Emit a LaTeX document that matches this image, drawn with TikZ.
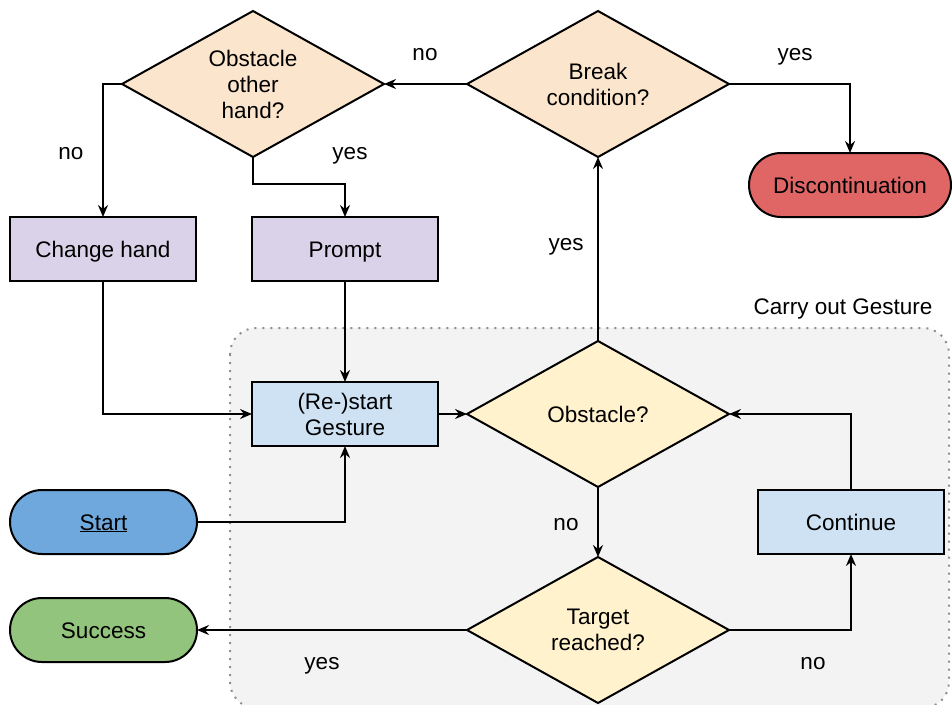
\documentclass[tikz,border=0pt]{standalone}
\usepackage{fontspec}
\setmainfont{Liberation Sans}
\usetikzlibrary{shapes.geometric,arrows.meta}
\definecolor{peach}{HTML}{FCE5CD}
\definecolor{lilac}{HTML}{D9D2E9}
\definecolor{paleblue}{HTML}{CFE2F3}
\definecolor{paleyellow}{HTML}{FFF2CC}
\definecolor{termred}{HTML}{E06666}
\definecolor{termblue}{HTML}{6FA8DC}
\definecolor{termgreen}{HTML}{93C47D}
\definecolor{groupfill}{HTML}{F3F3F3}
\definecolor{groupline}{HTML}{8F8F8F}
\tikzset{
  base/.style={draw=black, line width=2pt, inner sep=0pt, outer sep=0pt,
    align=center, font=\fontsize{22.5}{26}\selectfont},
  oneline/.style={text height=16pt, text depth=0pt},
  procbox/.style={base, rectangle, minimum width=186pt, minimum height=64pt},
  decision/.style={base, diamond, aspect=1.8, minimum width=262pt, minimum height=146pt},
  terminal/.style={base, oneline, rectangle, rounded corners=32pt, minimum width=187pt, minimum height=64pt},
  flow/.style={line width=2pt, -{Stealth[length=12pt,width=10pt,inset=4pt]}},
  lbl/.style={font=\fontsize{22.5}{26}\selectfont, inner sep=0pt, text height=12pt, text depth=0pt},
}
\begin{document}
\begin{tikzpicture}[x=1pt,y=-1pt]
  \path[use as bounding box] (0,0) rectangle (952,704);

  % group frame for the gesture loop
  \begin{scope}
    \clip (0,0) rectangle (952,704);
    \draw[fill=groupfill, draw=groupline, line width=2pt,
      dash pattern=on 2pt off 6pt, rounded corners=26pt]
      (230,328) rectangle (949,708);
  \end{scope}
  \node[font=\fontsize{22.5}{26}\selectfont, inner sep=0pt, oneline]
    (grouptitle) at (843,306) {Carry out Gesture};

  % decisions
  \node[decision, fill=peach] (ooh) at (253,84) {Obstacle\\other\\hand?};
  \node[decision, fill=peach] (brk) at (598,84) {Break\\condition?};
  \node[decision, fill=paleyellow, oneline] (obs) at (598,414) {Obstacle?};
  \node[decision, fill=paleyellow] (tgt) at (598,630) {Target\\reached?};

  % process boxes
  \node[procbox, oneline, fill=lilac] (chg) at (103,249) {Change hand};
  \node[procbox, oneline, fill=lilac] (prm) at (345,249) {Prompt};
  \node[procbox, fill=paleblue] (rst) at (345,414) {(Re-)start\\Gesture};
  \node[procbox, oneline, fill=paleblue] (cont) at (851,522) {Continue};

  % terminals
  \node[terminal, fill=termred, minimum width=202pt] (disc) at (850,185) {Discontinuation};
  \node[terminal, fill=termblue] (start) at (103.5,522) {\underline{Start}};
  \node[terminal, fill=termgreen] (succ) at (103.5,630) {Success};

  % connectors
  \draw[flow] (brk.west) -- (ooh.east);
  \draw[flow] (brk.east) -| (disc.north);
  \draw[flow] (ooh.west) -| (chg.north);
  \draw[flow] (ooh.south) -- ++(0,27) -| (prm.north);
  \draw[flow] (chg.south) |- (rst.west);
  \draw[flow] (prm.south) -- (rst.north);
  \draw[flow] (start.east) -| (rst.south);
  \draw[flow] (rst.east) -- (obs.west);
  \draw[flow] (obs.north) -- (brk.south);
  \draw[flow] (obs.south) -- (tgt.north);
  \draw[flow] (tgt.west) -- (succ.east);
  \draw[flow] (tgt.east) -| (cont.south);
  \draw[flow] (cont.north) |- (obs.east);

  % connector labels
  \node[lbl] (l1) at (425,54.5) {no};
  \node[lbl] (l2) at (795,54) {yes};
  \node[lbl] (l3) at (71,153) {no};
  \node[lbl] (l4) at (350,153.5) {yes};
  \node[lbl] (l5) at (566,244) {yes};
  \node[lbl] (l6) at (566,524) {no};
  \node[lbl] (l7) at (322,663.5) {yes};
  \node[lbl] (l8) at (813,663) {no};
\end{tikzpicture}
\end{document}
